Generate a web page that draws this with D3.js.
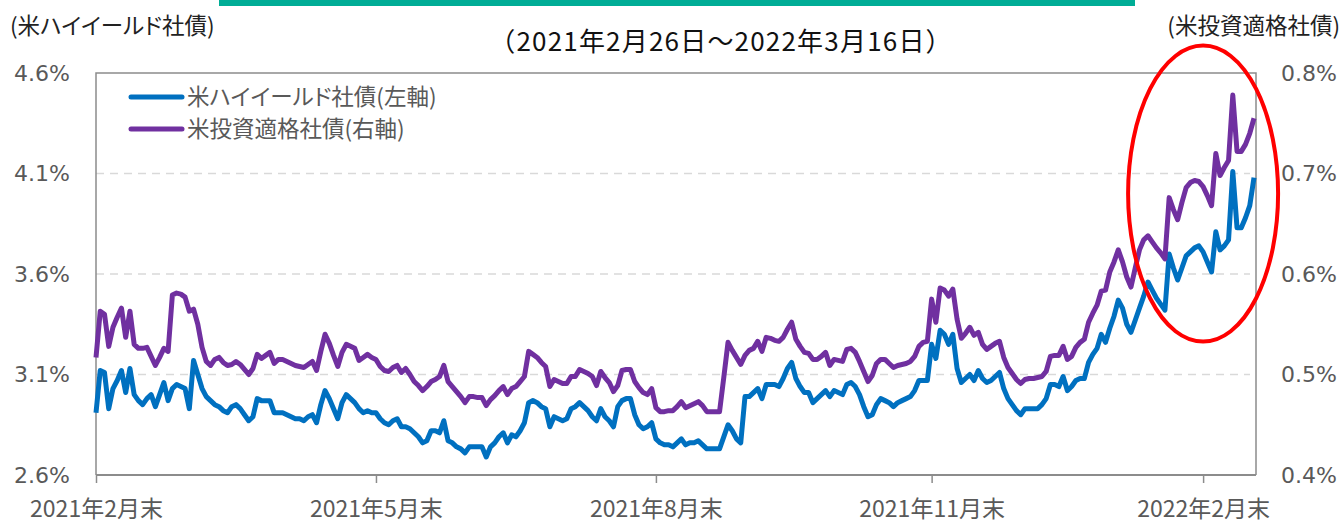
<!DOCTYPE html>
<html>
<head>
<meta charset="utf-8">
<script src="https://cdn.jsdelivr.net/npm/d3@7"></script>
<style>
  body { margin: 0; background: #fff; }
  text { font-family: "Noto Sans CJK JP", sans-serif; font-feature-settings: "palt"; }
  text.plain { font-feature-settings: normal; }
  .ytick text { font-family: "DejaVu Sans", sans-serif; fill: #595959; }
</style>
</head>
<body>
<div id="chart"></div>
<script>
// period: every weekday from 2021/2/26 to 2022/3/16
var startDate = "2021-02-26",
    endDate = "2022-03-16";

// US high yield spread (%) - left axis, one value per weekday
var hyValues = [
  2.91, 3.12, 3.11, 2.93, 3.03, 3.07, 3.12, 3.01, 3.13, 3.00,
  2.97, 2.95, 2.98, 3.00, 2.94, 3.00, 3.06, 2.97, 3.03, 3.05,
  3.04, 3.03, 2.93, 3.17, 3.10, 3.03, 2.99, 2.97, 2.95, 2.94,
  2.92, 2.91, 2.94, 2.95, 2.93, 2.90, 2.87, 2.89, 2.98, 2.97,
  2.97, 2.97, 2.91, 2.91, 2.91, 2.90, 2.89, 2.88, 2.88, 2.87,
  2.89, 2.90, 2.86, 2.95, 3.02, 2.98, 2.93, 2.88, 2.96, 3.00,
  2.98, 2.96, 2.93, 2.91, 2.92, 2.91, 2.91, 2.88, 2.86, 2.85,
  2.87, 2.88, 2.84, 2.84, 2.83, 2.81, 2.79, 2.76, 2.77, 2.82,
  2.82, 2.81, 2.87, 2.77, 2.76, 2.74, 2.73, 2.71, 2.74, 2.74,
  2.74, 2.74, 2.69, 2.74, 2.76, 2.79, 2.81, 2.76, 2.80, 2.79,
  2.82, 2.86, 2.96, 2.97, 2.96, 2.94, 2.93, 2.84, 2.89, 2.88,
  2.87, 2.88, 2.93, 2.94, 2.96, 2.94, 2.92, 2.89, 2.87, 2.93,
  2.89, 2.87, 2.84, 2.94, 2.97, 2.98, 2.98, 2.90, 2.85, 2.83,
  2.84, 2.86, 2.78, 2.76, 2.75, 2.75, 2.74, 2.76, 2.78, 2.75,
  2.76, 2.76, 2.77, 2.75, 2.73, 2.73, 2.73, 2.73, 2.79, 2.85,
  2.82, 2.78, 2.76, 2.99, 2.99, 3.01, 3.03, 2.98, 3.05, 3.05,
  3.05, 3.04, 3.08, 3.13, 3.16, 3.08, 3.04, 3.01, 3.01, 2.96,
  2.98, 3.00, 3.02, 2.99, 3.02, 3.01, 3.00, 3.05, 3.06, 3.04,
  3.00, 2.94, 2.89, 2.90, 2.95, 2.98, 2.97, 2.96, 2.94, 2.96,
  2.97, 2.98, 2.99, 3.02, 3.07, 3.07, 3.07, 3.25, 3.18, 3.32,
  3.30, 3.25, 3.30, 3.13, 3.06, 3.08, 3.10, 3.07, 3.12, 3.08,
  3.06, 3.07, 3.09, 3.11, 3.03, 2.98, 2.95, 2.92, 2.90, 2.93,
  2.93, 2.93, 2.93, 2.95, 2.98, 3.05, 3.05, 3.04, 3.09, 3.02,
  3.04, 3.07, 3.08, 3.08, 3.16, 3.20, 3.23, 3.30, 3.26, 3.33,
  3.39, 3.47, 3.43, 3.35, 3.31, 3.37, 3.43, 3.49, 3.56, 3.52,
  3.48, 3.45, 3.42, 3.70, 3.63, 3.57, 3.63, 3.69, 3.71, 3.73,
  3.74, 3.71, 3.66, 3.61, 3.81, 3.72, 3.74, 3.77, 4.11, 3.83,
  3.83, 3.88, 3.94, 4.08
];

// US investment grade spread (%) - right axis
var igValues = [
  0.517, 0.563, 0.560, 0.528, 0.547, 0.557, 0.566, 0.537, 0.563, 0.530,
  0.526, 0.526, 0.527, 0.518, 0.509, 0.517, 0.526, 0.523, 0.579, 0.581,
  0.580, 0.577, 0.563, 0.565, 0.550, 0.527, 0.513, 0.509, 0.515, 0.517,
  0.512, 0.509, 0.510, 0.513, 0.510, 0.505, 0.500, 0.506, 0.520, 0.516,
  0.519, 0.522, 0.511, 0.515, 0.515, 0.513, 0.511, 0.509, 0.508, 0.507,
  0.510, 0.513, 0.504, 0.523, 0.540, 0.531, 0.519, 0.508, 0.522, 0.530,
  0.528, 0.526, 0.514, 0.517, 0.520, 0.517, 0.515, 0.508, 0.504, 0.503,
  0.507, 0.509, 0.502, 0.506, 0.500, 0.493, 0.489, 0.484, 0.488, 0.493,
  0.495, 0.498, 0.509, 0.493, 0.488, 0.483, 0.478, 0.472, 0.478, 0.478,
  0.477, 0.477, 0.469, 0.475, 0.479, 0.484, 0.488, 0.480, 0.486, 0.488,
  0.493, 0.498, 0.523, 0.520, 0.517, 0.512, 0.508, 0.488, 0.495, 0.493,
  0.491, 0.491, 0.498, 0.498, 0.505, 0.503, 0.501, 0.498, 0.489, 0.503,
  0.497, 0.492, 0.483, 0.489, 0.504, 0.505, 0.505, 0.493, 0.487, 0.482,
  0.480, 0.486, 0.467, 0.463, 0.463, 0.464, 0.464, 0.468, 0.473, 0.467,
  0.469, 0.471, 0.473, 0.469, 0.463, 0.463, 0.463, 0.463, 0.497, 0.532,
  0.524, 0.517, 0.510, 0.519, 0.524, 0.526, 0.533, 0.523, 0.537, 0.536,
  0.534, 0.533, 0.537, 0.545, 0.552, 0.535, 0.528, 0.522, 0.521, 0.515,
  0.515, 0.518, 0.522, 0.509, 0.515, 0.514, 0.513, 0.525, 0.526, 0.522,
  0.513, 0.503, 0.493, 0.499, 0.511, 0.515, 0.515, 0.511, 0.507, 0.509,
  0.510, 0.511, 0.513, 0.518, 0.528, 0.532, 0.533, 0.575, 0.552, 0.586,
  0.584, 0.578, 0.585, 0.555, 0.536, 0.541, 0.547, 0.539, 0.542, 0.530,
  0.525, 0.528, 0.531, 0.533, 0.517, 0.507, 0.501, 0.495, 0.491, 0.495,
  0.496, 0.496, 0.497, 0.498, 0.503, 0.518, 0.519, 0.519, 0.528, 0.515,
  0.518, 0.527, 0.532, 0.535, 0.552, 0.561, 0.569, 0.583, 0.584, 0.602,
  0.612, 0.624, 0.612, 0.597, 0.587, 0.606, 0.624, 0.634, 0.638, 0.632,
  0.626, 0.621, 0.615, 0.676, 0.664, 0.654, 0.671, 0.686, 0.691, 0.693,
  0.692, 0.687, 0.678, 0.668, 0.720, 0.698, 0.706, 0.713, 0.778, 0.722,
  0.722, 0.729, 0.740, 0.755
];

var tickDates = ["2021-02-26", "2021-05-31", "2021-08-31", "2021-11-30", "2022-02-28"];
var tickLabels = ["2021年2月末", "2021年5月末", "2021年8月末", "2021年11月末", "2022年2月末"];
var leftTicks = [2.6, 3.1, 3.6, 4.1, 4.6];
var rightTicks = [0.4, 0.5, 0.6, 0.7, 0.8];
var seriesNames = ["米ハイイールド社債(左軸)", "米投資適格社債(右軸)"];
var seriesColors = ["#0070C0", "#7030A0"];

var W = 1343, H = 525;
var margin = { left: 96, right: 87, top: 73, bottom: 50 };
var width = W - margin.left - margin.right,
    height = H - margin.top - margin.bottom;

var parse = d3.utcParse("%Y-%m-%d");
var fmt = d3.utcFormat("%Y-%m-%d");
// weekday calendar
var days = d3.utcDay.range(parse(startDate), d3.utcDay.offset(parse(endDate), 1))
    .filter(function(d){ return d.getUTCDay() != 0 && d.getUTCDay() != 6; })
    .map(fmt);

var svg = d3.select("#chart").append("svg")
    .attr("width", W)
    .attr("height", H);

// green bar at the top
svg.append("rect")
    .attr("x", 219).attr("y", 0)
    .attr("width", 916).attr("height", 6)
    .attr("fill", "#00AD96");

svg.append("text")
    .attr("class", "plain")
    .attr("x", 721).attr("y", 51)
    .attr("text-anchor", "middle")
    .attr("font-size", "26px")
    .attr("letter-spacing", "1.2px")
    .attr("fill", "#111")
    .text("（2021年2月26日～2022年3月16日）");

svg.append("text")
    .attr("x", 10).attr("y", 34)
    .attr("font-size", "22.5px")
    .attr("fill", "#222")
    .text("(米ハイイールド社債)");
svg.append("text")
    .attr("class", "plain")
    .attr("x", 1340).attr("y", 34)
    .attr("text-anchor", "end")
    .attr("font-size", "22.5px")
    .attr("fill", "#222")
    .text("(米投資適格社債)");

var g = svg.append("g")
    .attr("transform", "translate(" + margin.left + "," + margin.top + ")");

var x = d3.scaleLinear()
    .domain([0, days.length - 1])
    .range([0, width - 2]);
var yL = d3.scaleLinear().domain([2.6, 4.6]).range([height, 0]);
var yR = d3.scaleLinear().domain([0.4, 0.8]).range([height, 0]);

// grid lines
g.selectAll(".grid")
    .data(leftTicks.slice(1, 4))
    .enter().append("line")
    .attr("x1", 0).attr("x2", width - 6)
    .attr("y1", function(d){ return yL(d); })
    .attr("y2", function(d){ return yL(d); })
    .attr("stroke", "#D9D9D9")
    .attr("stroke-width", 1.5)
    .attr("stroke-dasharray", "8,6");

// frame
g.append("path")
    .attr("d", "M0," + height + "V0H" + width + "V" + height)
    .attr("fill", "none")
    .attr("stroke", "#8C8C8C")
    .attr("stroke-width", 1.5);

// axes
var xAxisCall = d3.axisBottom(x)
    .tickValues(tickDates.map(function(d){ return days.indexOf(d); }))
    .tickSizeInner(8)
    .tickSizeOuter(0)
    .tickPadding(18)
    .tickFormat(function(d, i){ return tickLabels[i]; });
var xAxis = g.append("g")
    .attr("transform", "translate(0," + height + ")")
    .call(xAxisCall);
xAxis.select(".domain").remove();
xAxis.append("line")
    .attr("x1", 0).attr("x2", width)
    .attr("stroke", "#8C8C8C").attr("stroke-width", 2);
xAxis.selectAll(".tick line").attr("stroke", "#8C8C8C").attr("stroke-width", 1.5);
xAxis.selectAll(".tick text")
    .attr("class", "plain")
    .attr("font-size", "23px")
    .attr("fill", "#595959")
    .style("font-family", '"Noto Sans CJK JP", sans-serif');

var yAxisL = g.append("g").attr("class", "ytick")
    .call(d3.axisLeft(yL).tickValues(leftTicks).tickSize(0).tickPadding(26)
        .tickFormat(function(d){ return d.toFixed(1) + "%"; }));
var yAxisR = g.append("g").attr("class", "ytick")
    .attr("transform", "translate(" + width + ",0)")
    .call(d3.axisRight(yR).tickValues(rightTicks).tickSize(0).tickPadding(25)
        .tickFormat(function(d){ return d.toFixed(1) + "%"; }));
[yAxisL, yAxisR].forEach(function(a){
    a.select(".domain").remove();
    a.selectAll("text").attr("font-size", "22px");
});

// lines
var lineL = d3.line()
    .x(function(d, i){ return x(i); })
    .y(function(d){ return yL(d); });
var lineR = d3.line()
    .x(function(d, i){ return x(i); })
    .y(function(d){ return yR(d); });

g.append("path")
    .datum(hyValues)
    .attr("d", lineL)
    .attr("fill", "none")
    .attr("stroke", seriesColors[0])
    .attr("stroke-width", 5)
    .attr("stroke-linejoin", "round");
g.append("path")
    .datum(igValues)
    .attr("d", lineR)
    .attr("fill", "none")
    .attr("stroke", seriesColors[1])
    .attr("stroke-width", 5)
    .attr("stroke-linejoin", "round");

// legend
var legend = g.selectAll(".legend")
    .data(seriesNames)
    .enter().append("g")
    .attr("transform", function(d, i){ return "translate(35," + (24 + i * 32) + ")"; });
legend.append("line")
    .attr("x1", 0).attr("x2", 51)
    .attr("stroke", function(d, i){ return seriesColors[i]; })
    .attr("stroke-width", 5)
    .attr("stroke-linecap", "round");
legend.append("text")
    .attr("x", 56).attr("y", 8)
    .attr("font-size", "22.5px")
    .attr("fill", "#595959")
    .text(function(d){ return d; });

// red ellipse around the latest widening
g.append("ellipse")
    .attr("cx", x(days.indexOf("2022-02-28")))
    .attr("cy", yL(4.0))
    .attr("rx", 75)
    .attr("ry", 148)
    .attr("fill", "none")
    .attr("stroke", "#FF0000")
    .attr("stroke-width", 4);
</script>
</body>
</html>
